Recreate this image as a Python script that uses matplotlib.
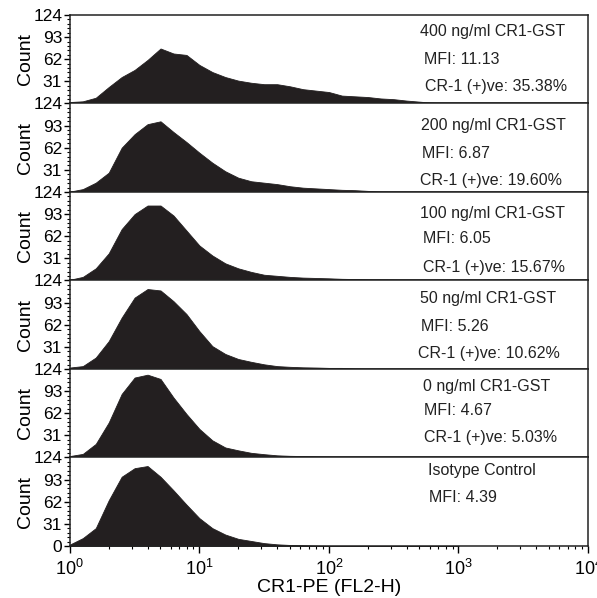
import numpy as np
import matplotlib
matplotlib.use("Agg")
import matplotlib.pyplot as plt
from matplotlib.ticker import FixedLocator, MultipleLocator, LogLocator, NullFormatter

plt.rcParams['font.family'] = ['Liberation Sans', 'DejaVu Sans']
plt.rcParams['mathtext.fontset'] = 'custom'
plt.rcParams['mathtext.rm'] = 'Liberation Sans'

# log10 of fluorescence at which the histogram heights were read
log_x = [0.0, 0.1, 0.2, 0.3, 0.4, 0.5, 0.6, 0.7, 0.8, 0.9,
         1.0, 1.1, 1.2, 1.3, 1.4, 1.5, 1.6, 1.7, 1.8, 1.9,
         2.0, 2.1, 2.2, 2.3, 2.4, 2.5, 2.6, 2.7, 2.8, 2.9, 3.0]

# counts, top panel to bottom panel
c400 = [2, 3, 8, 23, 37, 47, 61, 77, 70, 68,
        54, 44, 37, 32, 29, 27, 27, 24, 20, 18,
        16, 11, 10, 9, 7, 6, 4, 2.5, 1, 0.3, 0]
c200 = [0.5, 4, 13, 27, 62, 81, 95, 99, 84, 70,
        55, 41, 29, 20, 15, 13, 11, 8, 6, 5,
        4, 3, 2.5, 1.5, 0.3, 0, 0, 0, 0, 0, 0]
c100 = [1, 5, 17, 38, 72, 93, 105, 105, 91, 70,
        49, 35, 24, 17, 12, 8, 6.5, 5, 4, 3.5,
        3, 2.3, 2, 1.4, 1.2, 1, 0.3, 0, 0, 0, 0]
c50 = [2, 4, 16, 39, 72, 100, 112, 110, 95, 77,
       53, 32, 21, 14, 10, 6.5, 4, 3, 2.3, 2,
       1.5, 1.5, 0.5, 0, 0, 0, 0, 0, 0, 0, 0]
c0 = [2, 5, 19, 49, 89, 112, 116, 110, 84, 61,
      40, 24, 14, 10, 6.5, 4.6, 3, 2.3, 2, 1.4,
      1, 0.4, 0, 0, 0, 0, 0, 0, 0, 0, 0]
ciso = [2, 11, 25, 64, 97, 109, 112, 97, 78, 58,
        39, 25, 16, 10, 7, 4, 2.3, 1.4, 1, 0.4,
        0, 0, 0, 0, 0, 0, 0, 0, 0, 0, 0]

series = [c400, c200, c100, c50, c0, ciso]

labels = [
    ["400 ng/ml CR1-GST", "MFI: 11.13", "CR-1 (+)ve: 35.38%"],
    ["200 ng/ml CR1-GST", "MFI: 6.87", "CR-1 (+)ve: 19.60%"],
    ["100 ng/ml CR1-GST", "MFI: 6.05", "CR-1 (+)ve: 15.67%"],
    ["50 ng/ml CR1-GST", "MFI: 5.26", "CR-1 (+)ve: 10.62%"],
    ["0 ng/ml CR1-GST", "MFI: 4.67", "CR-1 (+)ve: 5.03%"],
    ["Isotype Control", "MFI: 4.39"],
]

# text placement (axes fraction) for each line of each panel
label_x = [[0.676, 0.684, 0.686], [0.677, 0.680, 0.676], [0.676, 0.682, 0.682],
           [0.676, 0.678, 0.672], [0.682, 0.684, 0.684], [0.692, 0.694]]
label_y = [[0.81, 0.50, 0.19], [0.75, 0.44, 0.125], [0.76, 0.47, 0.15],
           [0.80, 0.48, 0.18], [0.80, 0.53, 0.22], [0.85, 0.55]]

fig, axes = plt.subplots(6, 1, figsize=(5.97, 5.98), dpi=100, sharex=True)
fig.subplots_adjust(left=0.117, right=0.985, top=0.975, bottom=0.087, hspace=0)

x = 10 ** np.array(log_x)
fill_col = '#231f20'

for i, ax in enumerate(axes):
    ax.fill_between(x, series[i], 0, color=fill_col, lw=0.6, edgecolor=fill_col)
    ax.set_xscale('log')
    ax.set_xlim(1, 1e4)
    ax.set_ylim(0, 124)
    for sp in ax.spines.values():
        sp.set_linewidth(1.1)
        sp.set_color('#222222')
    if i == len(axes) - 1:
        ax.yaxis.set_major_locator(FixedLocator([0, 31, 62, 93, 124]))
    else:
        ax.yaxis.set_major_locator(FixedLocator([31, 62, 93, 124]))
    ax.yaxis.set_minor_locator(MultipleLocator(6.2))
    ax.tick_params(axis='y', which='major', direction='out', length=4, width=1,
                   labelsize=12.5, pad=1.5)
    ax.tick_params(axis='y', which='minor', direction='out', length=2, width=0.8)
    ax.set_ylabel('Count', fontsize=14, labelpad=1)
    ax.yaxis.set_label_coords(-0.07, 0.5)
    for j, t in enumerate(labels[i]):
        ax.text(label_x[i][j], label_y[i][j], t, transform=ax.transAxes,
                fontsize=11.5, va='center', ha='left', color='#222222')
    if i < len(axes) - 1:
        ax.tick_params(axis='x', which='both', bottom=False, labelbottom=False)

ax = axes[-1]
ax.xaxis.set_major_locator(LogLocator(base=10, numticks=10))
ax.xaxis.set_minor_locator(LogLocator(base=10, subs=np.arange(2, 10), numticks=50))
ax.xaxis.set_minor_formatter(NullFormatter())
ax.tick_params(axis='x', which='major', direction='out', length=5, width=1,
               labelsize=13, pad=4)
ax.tick_params(axis='x', which='minor', direction='out', length=2.5, width=0.8)
ax.set_xlabel('CR1-PE (FL2-H)', fontsize=14, labelpad=0)

fig.savefig('out.png', dpi=100)
